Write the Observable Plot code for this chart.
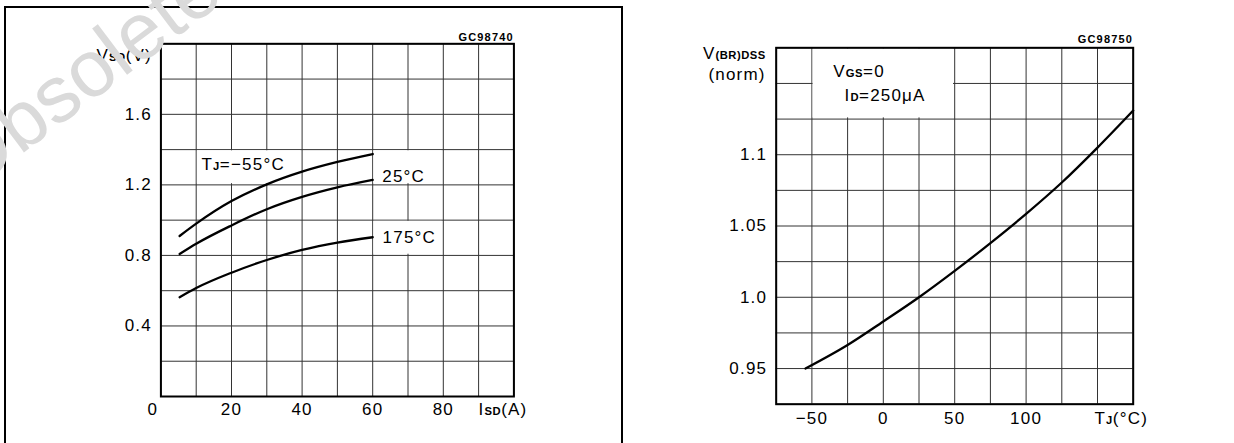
<!DOCTYPE html>
<html>
<head>
<meta charset="utf-8">
<script src="https://cdn.jsdelivr.net/npm/d3@7"></script>
<script src="https://cdn.jsdelivr.net/npm/@observablehq/plot@0.6"></script>
<style>
  html, body { margin: 0; padding: 0; background: #fff; }
  #wrap { position: relative; width: 1234px; height: 443px; overflow: hidden; background: #fff; }
  #left, #right { position: absolute; top: 0; }
  #left { left: 0; }
  #right { left: 630px; }
  #box { position: absolute; left: 4px; top: 6px; width: 615px; height: 520px; border: 2px solid #000; }
  #wm { position: absolute; left: 0; top: 0; pointer-events: none; }
</style>
</head>
<body>
<div id="wrap">
  <div id="box"></div>
  <div id="left"></div>
  <div id="right"></div>
  <svg id="wm" width="1234" height="443"></svg>
</div>
<script>
// ---------- Left chart data: VSD vs ISD ----------
const isdA = [5.3, 10, 20, 30, 40, 50, 60];
const vsdM55 = [0.910, 0.980, 1.108, 1.203, 1.275, 1.330, 1.375];
const vsd25 = [0.808, 0.866, 0.970, 1.062, 1.132, 1.186, 1.228];
const vsd175 = [0.563, 0.615, 0.702, 0.774, 0.831, 0.873, 0.903];
const seriesNamesL = ["TJ=-55", "25", "175"];
const xGridL = [0, 10, 20, 30, 40, 50, 60, 70, 80, 90, 100];
const yGridL = [0, 0.2, 0.4, 0.6, 0.8, 1.0, 1.2, 1.4, 1.6, 1.8, 2.0];
const xTicksL = [20, 40, 60, 80];
const xTickLabelsL = ["20", "40", "60", "80"];
const yTicksL = [0.4, 0.8, 1.2, 1.6];
const yTickLabelsL = ["0.4", "0.8", "1.2", "1.6"];
const curveLabelsL = ["T{J}=−55°C", "25°C", "175°C"];
const curveLabelX = [11.5, 62.7, 62.8];
const curveLabelY = [1.313, 1.246, 0.903];
const labelBoxX1 = [10, 60, 60];
const labelBoxX2 = [40, 80, 80];
const labelBoxY1 = [1.2, 1.2, 0.8];
const labelBoxY2 = [1.4, 1.4, 1.0];

// ---------- Right chart data: V(BR)DSS vs TJ ----------
const tjC = [-54.5, -25, 0, 25, 50, 75, 100, 125, 150, 175];
const vbrNorm = [0.950, 0.9665, 0.983, 1.000, 1.0185, 1.038, 1.0585, 1.0805, 1.105, 1.131];
const xGridR = [-75, -50, -25, 0, 25, 50, 75, 100, 125, 150, 175];
const yGridR = [0.925, 0.95, 0.975, 1.0, 1.025, 1.05, 1.075, 1.1, 1.125, 1.15, 1.175];
const xTicksR = [-50, 0, 50, 100];
const xTickLabelsR = ["−50", "0", "50", "100"];
const yTicksR = [0.95, 1.0, 1.05, 1.1];
const yTickLabelsR = ["0.95", "1.0", "1.05", "1.1"];
const insetBoxR = {x1: -50, x2: 50, y1: 1.125, y2: 1.175};
const insetLines = ["V{GS}=0", "I{D}=250μA"];
const insetX = [-35, -27.2];
const insetY = [1.158, 1.1415];

const FONT = "'Liberation Sans', Arial, sans-serif";
const GRID = {stroke: "#333", strokeOpacity: 1, strokeWidth: 1};

// ---------- Left plot ----------
const leftData = [];
[vsdM55, vsd25, vsd175].forEach((arr, k) => arr.forEach((v, i) => leftData.push({s: seriesNamesL[k], x: isdA[i], y: v})));
const boxesL = labelBoxX1.map((x1, i) => ({x1, x2: labelBoxX2[i], y1: labelBoxY1[i], y2: labelBoxY2[i]}));
const curveLbl = curveLabelsL.map((t, i) => ({t, x: curveLabelX[i], y: curveLabelY[i]}));

const left = Plot.plot({
  width: 620, height: 443,
  marginLeft: 160.4, marginRight: 106.6, marginTop: 43.3, marginBottom: 47,
  x: {domain: [0, 100], axis: null},
  y: {domain: [0, 2], axis: null},
  style: {fontFamily: FONT, fontSize: "17px", letterSpacing: "1.2px", background: "transparent", overflow: "visible"},
  marks: [
    Plot.gridX(xGridL, GRID),
    Plot.gridY(yGridL, GRID),
    Plot.rect(boxesL, {x1: "x1", x2: "x2", y1: "y1", y2: "y2", fill: "white", inset: 1.2}),
    Plot.frame({stroke: "#000", strokeWidth: 2}),
    Plot.line(leftData, {x: "x", y: "y", z: "s", curve: "monotone-x", stroke: "#000", strokeWidth: 2.3}),
    Plot.text(curveLbl, {x: "x", y: "y", text: "t", textAnchor: "start", fill: "#000"}),
    Plot.text(xTicksL, {x: d => d, text: (d, i) => xTickLabelsL[i], frameAnchor: "bottom", dy: 13, lineAnchor: "middle"}),
    Plot.text([0], {x: d => d, text: ["0"], frameAnchor: "bottom", dy: 13, dx: -8, lineAnchor: "middle"}),
    Plot.text([90], {x: d => d, text: ["I{SD}(A)"], frameAnchor: "bottom", dy: 13, textAnchor: "start", lineAnchor: "middle"}),
    Plot.text(yTicksL, {y: d => d, text: (d, i) => yTickLabelsL[i], frameAnchor: "left", dx: -9, textAnchor: "end"}),
    Plot.text([2.0], {y: d => d, text: ["V{SD}(V)"], frameAnchor: "left", dx: -9, dy: 12, textAnchor: "end"}),
    Plot.text(["GC98740"], {text: d => d, frameAnchor: "top-right", dy: -6.5, textAnchor: "end", fontSize: 11, fontWeight: "bold", lineAnchor: "middle"})
  ]
});
document.getElementById("left").appendChild(left);

// ---------- Right plot ----------
const rightData = tjC.map((x, i) => ({x, y: vbrNorm[i]}));
const inset = insetLines.map((t, i) => ({t, x: insetX[i], y: insetY[i]}));

const right = Plot.plot({
  width: 604, height: 443,
  marginLeft: 145.7, marginRight: 101.3, marginTop: 47.3, marginBottom: 39.3,
  x: {domain: [-75, 175], axis: null},
  y: {domain: [0.925, 1.175], axis: null},
  style: {fontFamily: FONT, fontSize: "17px", letterSpacing: "1.2px", background: "transparent", overflow: "visible"},
  marks: [
    Plot.gridX(xGridR, GRID),
    Plot.gridY(yGridR, GRID),
    Plot.rect([insetBoxR], {x1: "x1", x2: "x2", y1: "y1", y2: "y2", fill: "white", inset: 1.2}),
    Plot.frame({stroke: "#000", strokeWidth: 2}),
    Plot.line(rightData, {x: "x", y: "y", curve: "monotone-x", stroke: "#000", strokeWidth: 2.3}),
    Plot.text(inset, {x: "x", y: "y", text: "t", textAnchor: "start", fill: "#000"}),
    Plot.text(xTicksR, {x: d => d, text: (d, i) => xTickLabelsR[i], frameAnchor: "bottom", dy: 14, lineAnchor: "middle"}),
    Plot.text([150], {x: d => d, text: ["T{J}(°C)"], frameAnchor: "bottom", dy: 14, dx: -3, textAnchor: "start", lineAnchor: "middle"}),
    Plot.text(yTicksR, {y: d => d, text: (d, i) => yTickLabelsR[i], frameAnchor: "left", dx: -9, textAnchor: "end"}),
    Plot.text(["V{(BR)DSS}"], {text: d => d, frameAnchor: "top-left", dx: -10.5, dy: 6, textAnchor: "end", lineAnchor: "middle"}),
    Plot.text(["(norm)"], {text: d => d, frameAnchor: "top-left", dx: -10.5, dy: 27, textAnchor: "end", lineAnchor: "middle"}),
    Plot.text(["GC98750"], {text: d => d, frameAnchor: "top-right", dy: -8.3, textAnchor: "end", fontSize: 11, fontWeight: "bold", lineAnchor: "middle"})
  ]
});
document.getElementById("right").appendChild(right);

// ---------- Subscript formatting: "{...}" -> small text ----------
function subscripts(svg) {
  d3.select(svg).selectAll("text").each(function() {
    const el = d3.select(this);
    const txt = this.textContent;
    if (!txt.includes("{")) return;
    el.text(null);
    txt.split(/(\{[^}]*\})/).filter(s => s.length).forEach(seg => {
      if (seg.startsWith("{")) {
        el.append("tspan").attr("font-size", "0.66em").attr("font-weight", "bold").attr("letter-spacing", "0.5px").text(seg.slice(1, -1));
      } else {
        el.append("tspan").text(seg);
      }
    });
  });
}
subscripts(left);
subscripts(right);

// ---------- Watermark ----------
d3.select("#wm").append("text")
  .attr("transform", "translate(-30,193) rotate(-37)")
  .attr("font-family", FONT)
  .attr("font-size", 80)
  .attr("fill", "#dadada")
  .text("Obsolete");
</script>
</body>
</html>
